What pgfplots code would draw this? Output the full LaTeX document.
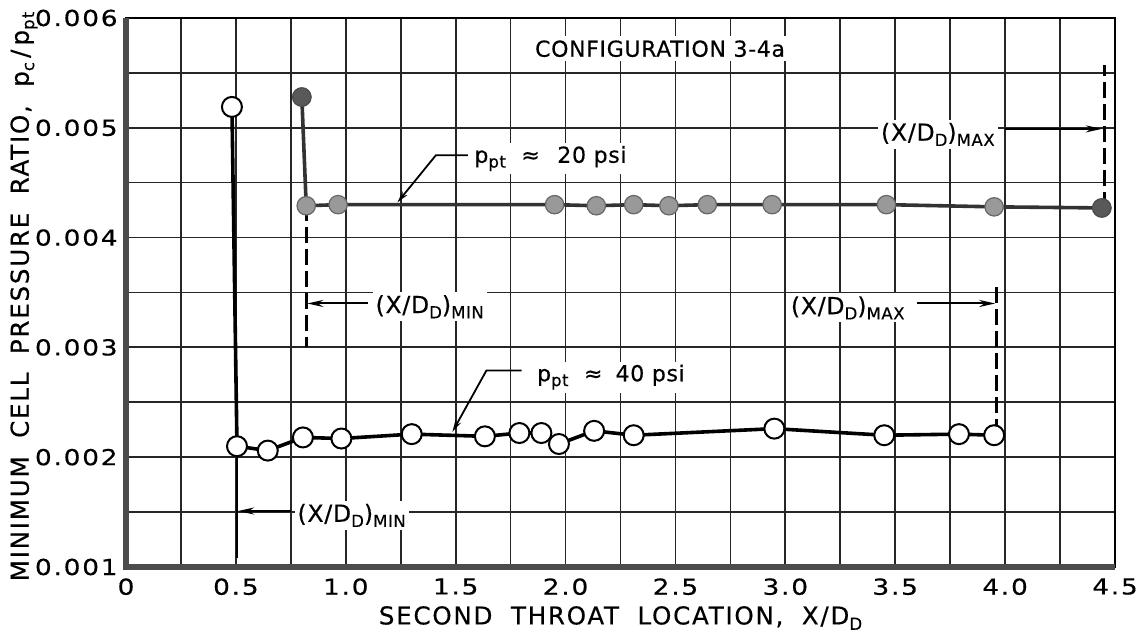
\documentclass[border=0pt]{standalone}
\usepackage{fontspec}
\setmainfont{DejaVu Sans}
\newfontfamily\lett[LetterSpace=3,FakeBold=0.4]{DejaVu Sans}
\newfontfamily\labf[LetterSpace=7,FakeBold=0.4]{DejaVu Sans}
\newfontfamily\tickf[FakeStretch=1.2,LetterSpace=8,FakeBold=0.4]{DejaVu Sans}
\usepackage{pgfplots}
\pgfplotsset{compat=1.18}
\usetikzlibrary{arrows.meta}
\newcommand\sub[1]{\raisebox{-0.4ex}{\fontsize{8.3}{8}\selectfont #1}}
\newcommand\fs[1]{\fontsize{#1}{#1}\selectfont}
\newcommand\ws{\hspace{0.75em}}
\begin{document}
\begin{tikzpicture}
\begin{axis}[
  scale only axis, width=494.5pt, height=274.5pt,
  xmin=0, xmax=4.5, ymin=0.001, ymax=0.006,
  clip=false,
  xtick={0,0.5,1,1.5,2,2.5,3,3.5,4,4.5},
  xticklabels={0,0.5,1.0,1.5,2.0,2.5,3.0,3.5,4.0,4.5},
  minor xtick={0.25,0.75,1.25,1.75,2.25,2.75,3.25,3.75,4.25},
  ytick={0.001,0.002,0.003,0.004,0.005,0.006},
  yticklabels={0.001,0.002,0.003,0.004,0.005,0.006},
  minor ytick={0.0015,0.0025,0.0035,0.0045,0.0055},
  scaled ticks=false,
  /pgf/number format/assume math mode=true,
  grid=both,
  major grid style={black!85, line width=0.9pt},
  minor grid style={black!85, line width=0.8pt},
  major tick length=0pt, minor tick length=0pt,
  axis line style={black, line width=1.4pt},
  ticklabel style={font=\tickf\fs{11}},
  xticklabel style={anchor=north, inner sep=0pt, yshift=-5.5pt},
  yticklabel style={anchor=east, inner sep=0pt, xshift=-4pt},
  xlabel={SECOND\ws THROAT\ws LOCATION,\ws X/D\sub{D}},
  ylabel={MINIMUM\ws CELL\ws PRESSURE\ws RATIO,\ws p\sub{c}\,/\,p\sub{pt}},
  every axis x label/.style={at={(axis description cs:0.5,0)}, yshift=-25.5pt, anchor=center, font=\labf\fs{12.3}},
  every axis y label/.style={at={(axis description cs:0,0.5)}, xshift=-51pt, yshift=-2pt, rotate=90, anchor=center, font=\labf\fs{12.3}},
]
% thick left and bottom borders
\draw[line width=2.6pt, black!70] (rel axis cs:0,1) -- (rel axis cs:0,0) -- (rel axis cs:1,0);

% annotations
\node[font=\lett\fs{11}, fill=white, inner sep=2pt] at (axis cs:2.43,0.00572) {CONFIGURATION 3-4a};

\node[font=\lett\fs{11}, fill=white, inner sep=1.5pt, anchor=west] at (axis cs:1.57,0.00472) {p\sub{pt}\hspace{0.7em}≈\hspace{0.8em}20 psi};
\draw[line width=0.9pt, -{Stealth[length=6pt,width=3pt]}] (axis cs:1.556,0.00475) -- (axis cs:1.41,0.00475) -- (axis cs:1.235,0.00432);

\node[font=\lett\fs{11}, fill=white, inner sep=1.5pt, anchor=west] at (axis cs:1.855,0.00273) {p\sub{pt}\hspace{0.7em}≈\hspace{0.6em}40 psi};
\draw[line width=0.9pt, -{Stealth[length=6pt,width=3pt]}] (axis cs:1.80,0.00279) -- (axis cs:1.64,0.00279) -- (axis cs:1.485,0.00223);

% (X/D_D)_MIN upper
\node[font=\lett\fs{11.8}, fill=white, inner sep=1.5pt, anchor=west] at (axis cs:1.12,0.00337) {(X/D\sub{D})\sub{MIN}};
\draw[line width=1pt, -{Stealth[length=8pt,width=3.5pt]}] (axis cs:1.10,0.0034) -- (axis cs:0.825,0.0034);
\draw[line width=1.5pt, dash pattern=on 8pt off 3pt] (axis cs:0.82,0.0043) -- (axis cs:0.82,0.003);

% (X/D_D)_MIN lower
\node[font=\lett\fs{11.8}, fill=white, inner sep=1.5pt, anchor=west] at (axis cs:0.765,0.00147) {(X/D\sub{D})\sub{MIN}};
\draw[line width=1pt, -{Stealth[length=8pt,width=3.5pt]}] (axis cs:0.75,0.00151) -- (axis cs:0.51,0.00151);
\draw[line width=1pt] (axis cs:0.505,0.0021) -- (axis cs:0.505,0.00108);

% (X/D_D)_MAX upper
\node[font=\lett\fs{11.8}, fill=white, inner sep=1.5pt, anchor=west] at (axis cs:3.42,0.00494) {(X/D\sub{D})\sub{MAX}};
\draw[line width=1pt, -{Stealth[length=8pt,width=3.5pt]}] (axis cs:4.0,0.00499) -- (axis cs:4.44,0.00499);
\draw[line width=1.5pt, dash pattern=on 8pt off 3pt] (axis cs:4.45,0.00427) -- (axis cs:4.45,0.00557);

% (X/D_D)_MAX lower
\node[font=\lett\fs{11.8}, fill=white, inner sep=1.5pt, anchor=west] at (axis cs:3.01,0.00336) {(X/D\sub{D})\sub{MAX}};
\draw[line width=1pt, -{Stealth[length=8pt,width=3.5pt]}] (axis cs:3.60,0.0034) -- (axis cs:3.955,0.0034);
\draw[line width=1.5pt, dash pattern=on 8pt off 3pt] (axis cs:3.96,0.0022) -- (axis cs:3.96,0.00356);

% p_pt = 20 psi (filled)
\addplot[line width=1.8pt, black!80, mark=*, mark size=4.6pt,
  mark options={fill=gray!80, draw=black!60, line width=0.6pt}]
  coordinates {(0.80,0.00528) (0.82,0.00429) (0.965,0.00430) (1.95,0.00430) (2.14,0.00429)
  (2.31,0.00430) (2.47,0.00429) (2.645,0.00430) (2.94,0.00430) (3.46,0.00430)
  (3.95,0.00428) (4.44,0.00427)};
\addplot[only marks, mark=*, mark size=4.6pt,
  mark options={fill=black!65, draw=black!70, line width=0.6pt}]
  coordinates {(0.80,0.00528) (4.44,0.00427)};

% p_pt = 40 psi (open)
\addplot[line width=1.8pt, black, mark=*, mark size=5pt,
  mark options={fill=white, draw=black, line width=1pt}]
  coordinates {(0.482,0.00519) (0.505,0.00210) (0.645,0.00206) (0.805,0.00218) (0.98,0.00217)
  (1.30,0.00221) (1.633,0.00219) (1.79,0.00222) (1.89,0.00222) (1.97,0.00212)
  (2.13,0.00224) (2.31,0.00220) (2.95,0.00226) (3.45,0.00220) (3.79,0.00221) (3.95,0.00220)};
\end{axis}
\pgfresetboundingbox
\path (current axis.south west) ++(-63pt,-36pt) rectangle ([xshift=10.5pt,yshift=9pt]current axis.north east);
\end{tikzpicture}
\end{document}
